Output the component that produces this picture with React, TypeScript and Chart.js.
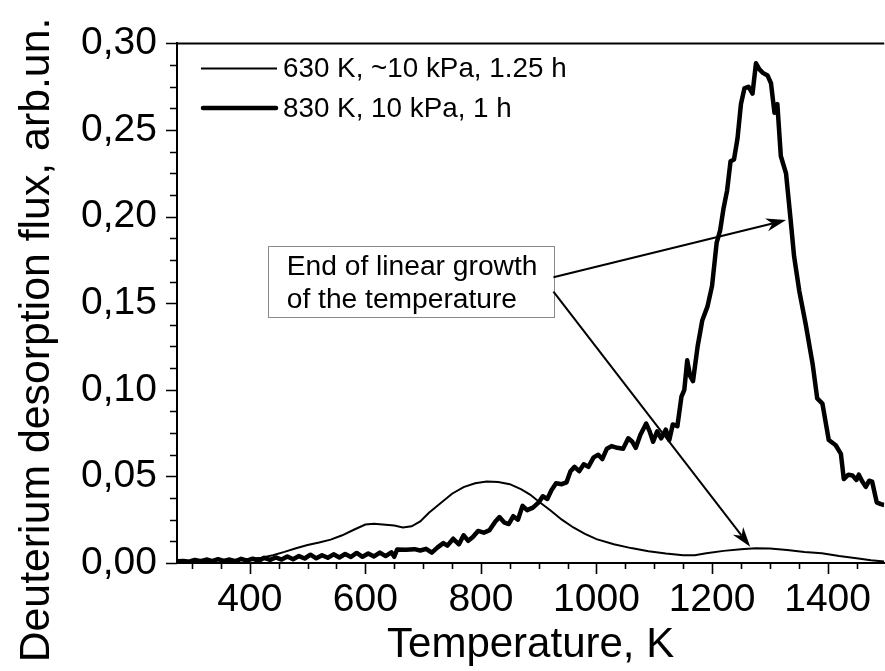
import React, { useEffect, useRef } from 'react';
import { Chart, registerables } from 'chart.js';

Chart.register(...registerables);

const FONT = "'Liberation Sans', Arial, Helvetica, sans-serif";

// ---- Data ----
const seriesLabels = ['630 K, ~10 kPa, 1.25 h', '830 K, 10 kPa, 1 h'];

const thinT = [275, 300, 325, 350, 375, 400, 420, 440, 460, 480, 500, 520, 540, 560, 580, 600, 615, 630, 650, 665, 680, 695, 710, 730, 750, 770, 790, 810, 830, 850, 870, 885, 900, 920, 940, 960, 980, 1000, 1030, 1060, 1090, 1120, 1150, 1170, 1190, 1220, 1250, 1275, 1300, 1330, 1360, 1390, 1420, 1450, 1475, 1498];
const thinV = [0.0012, 0.0013, 0.0014, 0.0016, 0.0019, 0.0024, 0.0031, 0.0045, 0.0064, 0.0085, 0.0104, 0.0118, 0.0135, 0.016, 0.0192, 0.0222, 0.0226, 0.0222, 0.0216, 0.0205, 0.0212, 0.024, 0.029, 0.0345, 0.04, 0.0438, 0.046, 0.047, 0.0468, 0.0455, 0.0425, 0.0395, 0.0355, 0.0305, 0.025, 0.0205, 0.0168, 0.0138, 0.0108, 0.0086, 0.0068, 0.0055, 0.0045, 0.0045, 0.0056, 0.007, 0.008, 0.0085, 0.0084, 0.0075, 0.0064, 0.0056, 0.004, 0.0027, 0.0016, 0.0009];

const thickT = [275, 285, 295, 305, 315, 325, 335, 345, 355, 365, 375, 385, 395, 405, 415, 425, 435, 445, 455, 465, 475, 485, 495, 505, 515, 525, 535, 545, 555, 565, 575, 585, 595, 605, 615, 625, 635, 645, 650, 655, 670, 685, 695, 705, 715, 725, 735, 742, 752, 762, 770, 778, 786, 795, 805, 815, 825, 832, 840, 848, 856, 864, 872, 880, 890, 900, 907, 915, 922, 930, 940, 948, 955, 962, 970, 978, 986, 995, 1003, 1010, 1018, 1026, 1036, 1046, 1055, 1062, 1068, 1076, 1086, 1092, 1098, 1105, 1112, 1120, 1126, 1132, 1140, 1147, 1152, 1157, 1162, 1167, 1175, 1183, 1192, 1200, 1208, 1214, 1220, 1226, 1232, 1238, 1244, 1250, 1256, 1263, 1270, 1276, 1282, 1288, 1296, 1302, 1308, 1313, 1319, 1328, 1336, 1342, 1351, 1362, 1374, 1382, 1391, 1402, 1414, 1423, 1428, 1436, 1443, 1450, 1454, 1460, 1466, 1472, 1477, 1485, 1492, 1498];
const thickV = [0.001, 0.0012, 0.0008, 0.0018, 0.001, 0.002, 0.0011, 0.0022, 0.0012, 0.002, 0.001, 0.0024, 0.0014, 0.0025, 0.0012, 0.003, 0.0018, 0.0032, 0.002, 0.0038, 0.0022, 0.004, 0.0026, 0.0048, 0.0027, 0.0045, 0.003, 0.005, 0.0032, 0.0052, 0.0035, 0.0058, 0.0036, 0.0055, 0.0038, 0.006, 0.004, 0.0062, 0.0036, 0.0078, 0.0076, 0.008, 0.0072, 0.0082, 0.006, 0.009, 0.0115, 0.01, 0.014, 0.0108, 0.016, 0.0128, 0.015, 0.0185, 0.0175, 0.019, 0.024, 0.0265, 0.0235, 0.0225, 0.027, 0.025, 0.033, 0.0305, 0.032, 0.035, 0.0385, 0.037, 0.042, 0.046, 0.0455, 0.0465, 0.053, 0.0555, 0.053, 0.057, 0.0555, 0.061, 0.0625, 0.06, 0.066, 0.0675, 0.0665, 0.066, 0.072, 0.07, 0.0665, 0.074, 0.0805, 0.076, 0.07, 0.076, 0.072, 0.077, 0.071, 0.08, 0.079, 0.096, 0.1, 0.117, 0.108, 0.105, 0.125, 0.14, 0.148, 0.16, 0.185, 0.192, 0.205, 0.215, 0.232, 0.233, 0.245, 0.265, 0.274, 0.275, 0.271, 0.2885, 0.285, 0.283, 0.2815, 0.277, 0.26, 0.265, 0.235, 0.225, 0.198, 0.177, 0.157, 0.138, 0.115, 0.095, 0.092, 0.071, 0.068, 0.063, 0.0485, 0.051, 0.0505, 0.048, 0.051, 0.047, 0.044, 0.0475, 0.047, 0.035, 0.034, 0.0335];

const xMajorTicks = [400, 600, 800, 1000, 1200, 1400];
const xMinorTicks = [300, 350, 450, 500, 550, 650, 700, 750, 850, 900, 950, 1050, 1100, 1150, 1250, 1300, 1350, 1450];
const yMajorTicks = [0, 0.05, 0.1, 0.15, 0.2, 0.25, 0.3];
const yMinorTicks = [0.0125, 0.025, 0.0375, 0.0625, 0.075, 0.0875, 0.1125, 0.125, 0.1375, 0.1625, 0.175, 0.1875, 0.2125, 0.225, 0.2375, 0.2625, 0.275, 0.2875];

const xTitle = 'Temperature, K';
const yTitle = 'Deuterium desorption flux, arb.un.';

const noteLines = ['End of linear growth', 'of the temperature'];
// box corners in data units: [xLeft, xRight], [yTop, yBottom]
const noteBoxX = [431, 925.5];
const noteBoxY = [0.183, 0.142];
// arrows: [fromX, fromY, toX, toY]
const arrowUpper = [925.5, 0.165, 1328, 0.198];
const arrowLower = [925.5, 0.1567, 1266, 0.0094];

function toPoints(xs: number[], ys: number[]) {
  return xs.map((x, i) => ({ x, y: ys[i] }));
}

function drawArrow(ctx: CanvasRenderingContext2D, x1: number, y1: number, x2: number, y2: number) {
  const ang = Math.atan2(y2 - y1, x2 - x1);
  const len = 20;
  const hw = 6.5;
  const notch = 14;
  ctx.save();
  ctx.strokeStyle = '#000';
  ctx.fillStyle = '#000';
  ctx.lineWidth = 2;
  ctx.beginPath();
  ctx.moveTo(x1, y1);
  ctx.lineTo(x2 - Math.cos(ang) * notch, y2 - Math.sin(ang) * notch);
  ctx.stroke();
  ctx.translate(x2, y2);
  ctx.rotate(ang);
  ctx.beginPath();
  ctx.moveTo(0, 0);
  ctx.lineTo(-len, -hw);
  ctx.lineTo(-notch, 0);
  ctx.lineTo(-len, hw);
  ctx.closePath();
  ctx.fill();
  ctx.restore();
}

const decorPlugin = {
  id: 'decor',
  afterDatasetsDraw(chart: any) {
    const ctx: CanvasRenderingContext2D = chart.ctx;
    const xs = chart.scales.x;
    const ys = chart.scales.y;
    const { left, right, top, bottom } = chart.chartArea;
    ctx.save();
    // top frame line
    ctx.strokeStyle = '#000';
    ctx.lineWidth = 2;
    ctx.beginPath();
    ctx.moveTo(left, top);
    ctx.lineTo(right, top);
    ctx.stroke();
    // tick marks
    ctx.lineWidth = 1.6;
    ctx.beginPath();
    xMajorTicks.forEach((v) => {
      const p = Math.round(xs.getPixelForValue(v)) + 0.5;
      ctx.moveTo(p, bottom);
      ctx.lineTo(p, bottom + 11);
    });
    xMinorTicks.forEach((v) => {
      const p = Math.round(xs.getPixelForValue(v)) + 0.5;
      ctx.moveTo(p, bottom);
      ctx.lineTo(p, bottom + 6);
    });
    yMajorTicks.forEach((v) => {
      const p = Math.round(ys.getPixelForValue(v)) + 0.5;
      ctx.moveTo(left, p);
      ctx.lineTo(left - 11, p);
    });
    yMinorTicks.forEach((v) => {
      const p = Math.round(ys.getPixelForValue(v)) + 0.5;
      ctx.moveTo(left, p);
      ctx.lineTo(left - 7, p);
    });
    ctx.stroke();

    // legend
    ctx.lineCap = 'butt';
    ctx.lineWidth = 2;
    ctx.beginPath();
    ctx.moveTo(201, 68.5);
    ctx.lineTo(277, 68.5);
    ctx.stroke();
    ctx.lineCap = 'round';
    ctx.lineWidth = 4.5;
    ctx.beginPath();
    ctx.moveTo(203, 108);
    ctx.lineTo(276, 108);
    ctx.stroke();
    ctx.lineCap = 'butt';
    ctx.fillStyle = '#000';
    ctx.font = `27.8px ${FONT}`;
    ctx.textAlign = 'left';
    ctx.textBaseline = 'middle';
    ctx.fillText(seriesLabels[0], 283, 69);
    ctx.fillText(seriesLabels[1], 283, 109);

    // note box
    const bx1 = xs.getPixelForValue(noteBoxX[0]);
    const bx2 = xs.getPixelForValue(noteBoxX[1]);
    const by1 = ys.getPixelForValue(noteBoxY[0]);
    const by2 = ys.getPixelForValue(noteBoxY[1]);
    ctx.fillStyle = '#fff';
    ctx.fillRect(bx1, by1, bx2 - bx1, by2 - by1);
    ctx.strokeStyle = '#8a8a8a';
    ctx.lineWidth = 1;
    ctx.strokeRect(Math.round(bx1) + 0.5, Math.round(by1) + 0.5, Math.round(bx2 - bx1), Math.round(by2 - by1));
    ctx.fillStyle = '#000';
    ctx.font = `28.2px ${FONT}`;
    ctx.textBaseline = 'middle';
    ctx.fillText(noteLines[0], bx1 + 19, by1 + 21);
    ctx.fillText(noteLines[1], bx1 + 19, by1 + 54);

    // arrows
    drawArrow(ctx, xs.getPixelForValue(arrowUpper[0]), ys.getPixelForValue(arrowUpper[1]), xs.getPixelForValue(arrowUpper[2]), ys.getPixelForValue(arrowUpper[3]));
    drawArrow(ctx, xs.getPixelForValue(arrowLower[0]), ys.getPixelForValue(arrowLower[1]), xs.getPixelForValue(arrowLower[2]), ys.getPixelForValue(arrowLower[3]));

    // y-axis title
    ctx.save();
    ctx.translate(49, 340);
    ctx.rotate(-Math.PI / 2);
    ctx.font = `42.8px ${FONT}`;
    ctx.textAlign = 'center';
    ctx.textBaseline = 'alphabetic';
    ctx.fillStyle = '#000';
    ctx.fillText(yTitle, 0, 0);
    ctx.restore();

    ctx.restore();
  },
};

export default function App() {
  const canvasRef = useRef<HTMLCanvasElement | null>(null);

  useEffect(() => {
    if (!canvasRef.current) return;
    const chart = new Chart(canvasRef.current, {
      type: 'line',
      data: {
        datasets: [
          {
            label: seriesLabels[0],
            data: toPoints(thinT, thinV),
            borderColor: '#000',
            borderWidth: 2,
            pointRadius: 0,
            tension: 0,
            fill: false,
          },
          {
            label: seriesLabels[1],
            data: toPoints(thickT, thickV),
            borderColor: '#000',
            borderWidth: 4.5,
            pointRadius: 0,
            tension: 0,
            fill: false,
            borderJoinStyle: 'round',
          },
        ],
      },
      options: {
        animation: false,
        responsive: false,
        maintainAspectRatio: false,
        layout: { padding: { top: 43, right: 0, left: 0, bottom: 0 } },
        plugins: {
          legend: { display: false },
          tooltip: { enabled: false },
          title: { display: false },
        },
        scales: {
          x: {
            type: 'linear',
            min: 274,
            max: 1498,
            grid: { display: false, drawTicks: false },
            border: { display: true, color: '#000', width: 2 },
            ticks: {
              color: '#000',
              font: { family: FONT, size: 39 },
              padding: 14,
              maxRotation: 0,
              autoSkip: false,
              callback: (v: any) => String(v),
            },
            title: {
              display: true,
              text: xTitle,
              color: '#000',
              font: { family: FONT, size: 42 },
              padding: { top: 0, bottom: 0 },
            },
            afterBuildTicks: (s: any) => {
              s.ticks = xMajorTicks.map((v) => ({ value: v }));
            },
            afterFit: (s: any) => {
              s.height = 108;
            },
          },
          y: {
            type: 'linear',
            min: 0,
            max: 0.3,
            grid: { display: false, drawTicks: false },
            border: { display: true, color: '#000', width: 2 },
            ticks: {
              color: '#000',
              font: { family: FONT, size: 39 },
              padding: 20,
              callback: (v: any) => Number(v).toFixed(2).replace('.', ','),
            },
            afterBuildTicks: (s: any) => {
              s.ticks = yMajorTicks.map((v) => ({ value: v }));
            },
            afterFit: (s: any) => {
              s.width = 177;
            },
          },
        },
      },
      plugins: [decorPlugin],
    });
    return () => chart.destroy();
  }, []);

  return (
    <div style={{ position: 'absolute', left: 0, top: 0, width: 885, height: 671, background: '#fff' }}>
      <canvas ref={canvasRef} width={885} height={671} style={{ display: 'block' }} />
    </div>
  );
}
